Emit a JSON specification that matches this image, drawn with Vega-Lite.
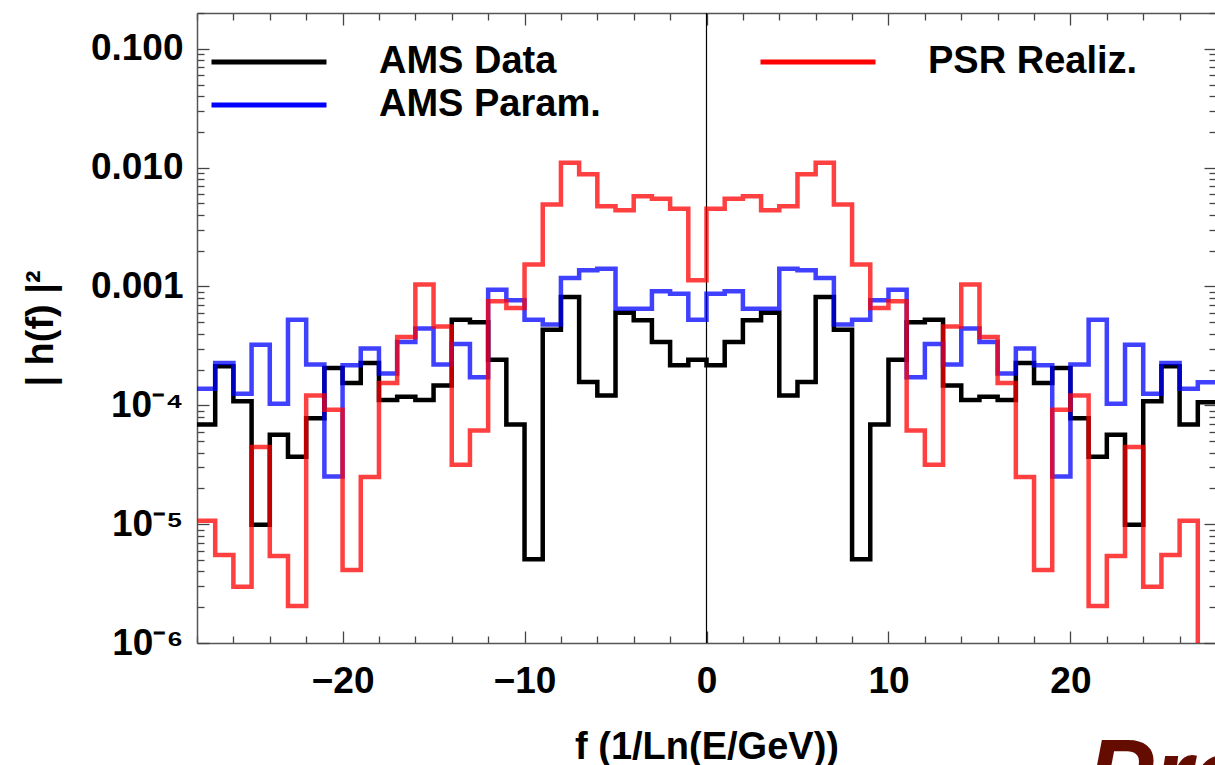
{
"$schema": "https://vega.github.io/schema/vega-lite/v6.json",
"width": 1019, "height": 630,
"autosize": {"type": "none"},
"padding": {"left": 197, "top": 13, "right": 0, "bottom": 122},
"background": "white",
"config": {
  "view": {"stroke": null},
  "font": "Liberation Sans",
  "axis": {"labelFont": "Liberation Sans", "labelFontSize": 37, "labelFontWeight": "bold", "labelColor": "black",
           "titleFont": "Liberation Sans", "titleFontSize": 38, "titleFontWeight": "bold", "titleColor": "black",
           "domainColor": "#555", "domainWidth": 1.5, "tickColor": "#444", "tickWidth": 1.3, "grid": false,
           "labelOverlap": false, "labelFlush": false, "labelBound": false}
},
"datasets": {
"black": [{"f":-28,"v":6.9e-5},{"f":-27,"v":2.13e-4},{"f":-26,"v":1.08e-4},{"f":-25,"v":9.9e-6},{"f":-24,"v":5.65e-5},{"f":-23,"v":3.7e-5},{"f":-22,"v":7.8e-5},{"f":-21,"v":2.06e-4},{"f":-20,"v":1.54e-4},{"f":-19,"v":2.27e-4},{"f":-18,"v":1.11e-4},{"f":-17,"v":1.18e-4},{"f":-16,"v":1.11e-4},{"f":-15,"v":1.47e-4},{"f":-14,"v":5.26e-4},{"f":-13,"v":4.99e-4},{"f":-12,"v":2.42e-4},{"f":-11,"v":6.9e-5},{"f":-10,"v":5.07e-6},{"f":-9,"v":4.33e-4},{"f":-8,"v":8.17e-4},{"f":-7,"v":1.57e-4},{"f":-6,"v":1.21e-4},{"f":-5,"v":6.0e-4},{"f":-4,"v":5.19e-4},{"f":-3,"v":3.41e-4},{"f":-2,"v":2.17e-4},{"f":-1,"v":2.42e-4},{"f":0,"v":2.17e-4},{"f":1,"v":3.41e-4},{"f":2,"v":5.19e-4},{"f":3,"v":6.0e-4},{"f":4,"v":1.21e-4},{"f":5,"v":1.57e-4},{"f":6,"v":8.17e-4},{"f":7,"v":4.33e-4},{"f":8,"v":5.07e-6},{"f":9,"v":6.9e-5},{"f":10,"v":2.42e-4},{"f":11,"v":4.99e-4},{"f":12,"v":5.26e-4},{"f":13,"v":1.47e-4},{"f":14,"v":1.11e-4},{"f":15,"v":1.18e-4},{"f":16,"v":1.11e-4},{"f":17,"v":2.27e-4},{"f":18,"v":1.54e-4},{"f":19,"v":2.06e-4},{"f":20,"v":7.8e-5},{"f":21,"v":3.7e-5},{"f":22,"v":5.65e-5},{"f":23,"v":9.9e-6},{"f":24,"v":1.08e-4},{"f":25,"v":2.13e-4},{"f":26,"v":6.9e-5},{"f":27,"v":1.06e-4},{"f":28,"v":1.06e-4}],
"blue": [{"f":-28,"v":1.38e-4},{"f":-27,"v":2.27e-4},{"f":-26,"v":1.25e-4},{"f":-25,"v":3.24e-4},{"f":-24,"v":1.03e-4},{"f":-23,"v":5.26e-4},{"f":-22,"v":2.2e-4},{"f":-21,"v":2.52e-5},{"f":-20,"v":2.17e-4},{"f":-19,"v":3.0e-4},{"f":-18,"v":1.85e-4},{"f":-17,"v":3.41e-4},{"f":-16,"v":4.42e-4},{"f":-15,"v":2.2e-4},{"f":-14,"v":3.28e-4},{"f":-13,"v":1.72e-4},{"f":-12,"v":9.4e-4},{"f":-11,"v":7.66e-4},{"f":-10,"v":5.26e-4},{"f":-9,"v":4.78e-4},{"f":-8,"v":1.18e-3},{"f":-7,"v":1.37e-3},{"f":-6,"v":1.41e-3},{"f":-5,"v":6.48e-4},{"f":-4,"v":6.48e-4},{"f":-3,"v":9.12e-4},{"f":-2,"v":8.7e-4},{"f":-1,"v":5.26e-4},{"f":0,"v":8.7e-4},{"f":1,"v":9.12e-4},{"f":2,"v":6.48e-4},{"f":3,"v":6.48e-4},{"f":4,"v":1.41e-3},{"f":5,"v":1.37e-3},{"f":6,"v":1.18e-3},{"f":7,"v":4.78e-4},{"f":8,"v":5.26e-4},{"f":9,"v":7.66e-4},{"f":10,"v":9.4e-4},{"f":11,"v":1.72e-4},{"f":12,"v":3.28e-4},{"f":13,"v":2.2e-4},{"f":14,"v":4.42e-4},{"f":15,"v":3.41e-4},{"f":16,"v":1.85e-4},{"f":17,"v":3.0e-4},{"f":18,"v":2.17e-4},{"f":19,"v":2.52e-5},{"f":20,"v":2.2e-4},{"f":21,"v":5.26e-4},{"f":22,"v":1.03e-4},{"f":23,"v":3.24e-4},{"f":24,"v":1.25e-4},{"f":25,"v":2.27e-4},{"f":26,"v":1.38e-4},{"f":27,"v":1.56e-4},{"f":28,"v":1.56e-4}],
"red": [{"f":-28,"v":1.07e-5},{"f":-27,"v":5.5e-6},{"f":-26,"v":2.98e-6},{"f":-25,"v":4.46e-5},{"f":-24,"v":5.4e-6},{"f":-23,"v":2.05e-6},{"f":-22,"v":1.21e-4},{"f":-21,"v":9.18e-5},{"f":-20,"v":4.12e-6},{"f":-19,"v":2.49e-5},{"f":-18,"v":1.54e-4},{"f":-17,"v":3.76e-4},{"f":-16,"v":1.04e-3},{"f":-15,"v":4.6e-4},{"f":-14,"v":3.16e-5},{"f":-13,"v":6.15e-5},{"f":-12,"v":7.5e-4},{"f":-11,"v":6.6e-4},{"f":-10,"v":1.53e-3},{"f":-9,"v":4.9e-3},{"f":-8,"v":1.1e-2},{"f":-7,"v":8.8e-3},{"f":-6,"v":4.73e-3},{"f":-5,"v":4.38e-3},{"f":-4,"v":5.75e-3},{"f":-3,"v":5.47e-3},{"f":-2,"v":4.5e-3},{"f":-1,"v":1.13e-3},{"f":0,"v":4.5e-3},{"f":1,"v":5.47e-3},{"f":2,"v":5.75e-3},{"f":3,"v":4.38e-3},{"f":4,"v":4.73e-3},{"f":5,"v":8.8e-3},{"f":6,"v":1.1e-2},{"f":7,"v":4.9e-3},{"f":8,"v":1.53e-3},{"f":9,"v":6.6e-4},{"f":10,"v":7.5e-4},{"f":11,"v":6.15e-5},{"f":12,"v":3.16e-5},{"f":13,"v":4.6e-4},{"f":14,"v":1.04e-3},{"f":15,"v":3.76e-4},{"f":16,"v":1.54e-4},{"f":17,"v":2.49e-5},{"f":18,"v":4.12e-6},{"f":19,"v":9.18e-5},{"f":20,"v":1.21e-4},{"f":21,"v":2.05e-6},{"f":22,"v":5.4e-6},{"f":23,"v":4.46e-5},{"f":24,"v":2.98e-6},{"f":25,"v":5.5e-6},{"f":26,"v":1.07e-5},{"f":27,"v":5e-7},{"f":28,"v":5e-7}],
"one": [{"t": "Preliminary"}]
},
"resolve": {"axis": {"x": "independent", "y": "independent"}},
"layer": [
 {"data": {"name": "one"},
  "mark": {"type": "rule", "color": "black", "strokeWidth": 1.2},
  "encoding": {"x": {"datum": 0, "type": "quantitative", "scale": {"domain": [-28, 28], "nice": false, "zero": false}, "axis": null}}},
 {"data": {"name": "black"},
  "mark": {"type": "line", "interpolate": "step-after", "strokeWidth": 4.5, "clip": true, "strokeJoin": "miter", "opacity": 1},
  "encoding": {
   "x": {"field": "f", "type": "quantitative", "scale": {"domain": [-28, 28], "nice": false, "zero": false},
         "axis": {"orient": "bottom", "values": [-28,-26,-24,-22,-20,-18,-16,-14,-12,-10,-8,-6,-4,-2,0,2,4,6,8,10,12,14,16,18,20,22,24,26,28],
                  "labelExpr": "datum.value % 10 === 0 ? datum.label : ''",
                  "tickSize": {"condition": {"test": "datum.value % 10 === 0", "value": -12}, "value": -7},
                  "labelPadding": 32, "title": "f (1/Ln(E/GeV))", "titlePadding": 24}},
   "y": {"field": "v", "type": "quantitative", "scale": {"type": "log", "domain": [0.000001, 0.2], "nice": false},
         "axis": {"orient": "left", "values": [1e-6,2e-6,3e-6,4e-6,5e-6,6e-6,7e-6,8e-6,9e-6,1e-5,2e-5,3e-5,4e-5,5e-5,6e-5,7e-5,8e-5,9e-5,1e-4,2e-4,3e-4,4e-4,5e-4,6e-4,7e-4,8e-4,9e-4,0.001,0.002,0.003,0.004,0.005,0.006,0.007,0.008,0.009,0.01,0.02,0.03,0.04,0.05,0.06,0.07,0.08,0.09,0.1,0.2],
                  "labelExpr": "abs(log(datum.value)/LN10 - round(log(datum.value)/LN10)) > 0.000001 ? '' : datum.value > 0.0005 ? format(datum.value, '.3f') : ('10' + (round(log(datum.value)/LN10) == -4 ? '⁻⁴' : round(log(datum.value)/LN10) == -5 ? '⁻⁵' : '⁻⁶'))",
                  "tickSize": {"condition": {"test": "abs(log(datum.value)/LN10 - round(log(datum.value)/LN10)) < 0.000001", "value": -12}, "value": -7},
                  "labelPadding": 26, "title": "| h(f) |²", "titlePadding": 30}},
   "color": {"datum": "AMS Data", "type": "nominal",
             "scale": {"domain": ["AMS Data", "AMS Param.", "PSR Realiz."], "range": ["#000000", "#0000ff", "#ff0000"]},
             "legend": {"title": null, "orient": "none", "legendX": 7, "legendY": 30, "columns": 2, "columnPadding": 149, "rowPadding": 5,
                        "symbolType": "M-5,0H5", "symbolSize": 529, "symbolStrokeWidth": 5, "symbolOffset": 46, "labelOffset": 91, "symbolOpacity": 1,
                        "labelFont": "Liberation Sans", "labelFontSize": 38, "labelFontWeight": "bold", "labelColor": "black", "labelLimit": 0}}
  }},
 {"data": {"name": "blue"},
  "mark": {"type": "line", "interpolate": "step-after", "strokeWidth": 4.5, "clip": true, "strokeJoin": "miter", "opacity": 0.75},
  "encoding": {
   "x": {"field": "f", "type": "quantitative", "scale": {"domain": [-28, 28], "nice": false, "zero": false},
         "axis": {"orient": "top", "values": [-28,-26,-24,-22,-20,-18,-16,-14,-12,-10,-8,-6,-4,-2,0,2,4,6,8,10,12,14,16,18,20,22,24,26,28],
                  "labels": false, "title": null,
                  "tickSize": {"condition": {"test": "datum.value % 10 === 0", "value": -12}, "value": -7}}},
   "y": {"field": "v", "type": "quantitative", "scale": {"type": "log", "domain": [0.000001, 0.2], "nice": false},
         "axis": {"orient": "right", "values": [1e-6,2e-6,3e-6,4e-6,5e-6,6e-6,7e-6,8e-6,9e-6,1e-5,2e-5,3e-5,4e-5,5e-5,6e-5,7e-5,8e-5,9e-5,1e-4,2e-4,3e-4,4e-4,5e-4,6e-4,7e-4,8e-4,9e-4,0.001,0.002,0.003,0.004,0.005,0.006,0.007,0.008,0.009,0.01,0.02,0.03,0.04,0.05,0.06,0.07,0.08,0.09,0.1,0.2],
                  "labels": false, "title": null,
                  "tickSize": {"condition": {"test": "abs(log(datum.value)/LN10 - round(log(datum.value)/LN10)) < 0.000001", "value": -12}, "value": -7}}},
   "color": {"datum": "AMS Param.", "type": "nominal",
             "scale": {"domain": ["AMS Data", "AMS Param.", "PSR Realiz."], "range": ["#000000", "#0000ff", "#ff0000"]},
             "legend": {"title": null, "orient": "none", "legendX": 7, "legendY": 30, "columns": 2, "columnPadding": 149, "rowPadding": 5,
                        "symbolType": "M-5,0H5", "symbolSize": 529, "symbolStrokeWidth": 5, "symbolOffset": 46, "labelOffset": 91, "symbolOpacity": 1,
                        "labelFont": "Liberation Sans", "labelFontSize": 38, "labelFontWeight": "bold", "labelColor": "black", "labelLimit": 0}}
  }},
 {"data": {"name": "red"},
  "mark": {"type": "line", "interpolate": "step-after", "strokeWidth": 4.5, "clip": true, "strokeJoin": "miter", "opacity": 0.75},
  "encoding": {
   "x": {"field": "f", "type": "quantitative", "scale": {"domain": [-28, 28], "nice": false, "zero": false}, "axis": null},
   "y": {"field": "v", "type": "quantitative", "scale": {"type": "log", "domain": [0.000001, 0.2], "nice": false}, "axis": null},
   "color": {"datum": "PSR Realiz.", "type": "nominal",
             "scale": {"domain": ["AMS Data", "AMS Param.", "PSR Realiz."], "range": ["#000000", "#0000ff", "#ff0000"]},
             "legend": {"title": null, "orient": "none", "legendX": 7, "legendY": 30, "columns": 2, "columnPadding": 149, "rowPadding": 5,
                        "symbolType": "M-5,0H5", "symbolSize": 529, "symbolStrokeWidth": 5, "symbolOffset": 46, "labelOffset": 91, "symbolOpacity": 1,
                        "labelFont": "Liberation Sans", "labelFontSize": 38, "labelFontWeight": "bold", "labelColor": "black", "labelLimit": 0}}
  }},
 {"data": {"name": "one"},
  "mark": {"type": "text", "font": "Liberation Sans", "fontSize": 100, "fontWeight": "bold", "fontStyle": "italic", "color": "#650c00", "align": "left", "baseline": "alphabetic"},
  "encoding": {
   "text": {"field": "t"},
   "x": {"datum": 20.9, "type": "quantitative", "scale": {"domain": [-28, 28], "nice": false, "zero": false}, "axis": null},
   "y": {"datum": 0.00000004, "type": "quantitative", "scale": {"type": "log", "domain": [0.000001, 0.2], "nice": false}, "axis": null}
  }}
]
}
